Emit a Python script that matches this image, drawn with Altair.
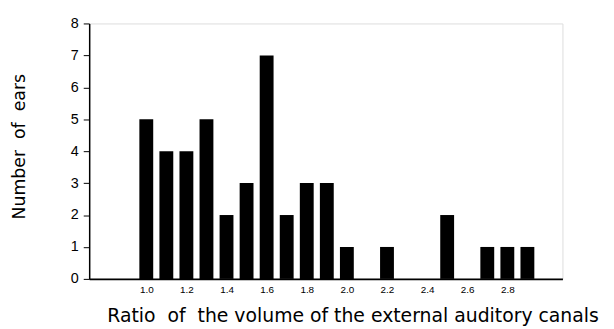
import altair as alt
import pandas as pd

ratios = [1.0, 1.1, 1.2, 1.3, 1.4, 1.5, 1.6, 1.7, 1.8, 1.9, 2.0, 2.2, 2.5, 2.7, 2.8, 2.9]
ears = [5, 4, 4, 5, 2, 3, 7, 2, 3, 3, 1, 1, 2, 1, 1, 1]
x_ticks = [1.0, 1.2, 1.4, 1.6, 1.8, 2.0, 2.2, 2.4, 2.6, 2.8]

df = pd.DataFrame({"ratio": ratios, "ears": ears})

font = "Liberation Sans"
tfont = "DejaVu Sans"
nb = "\u00a0"

chart = alt.Chart(df).mark_bar(color="black", size=14).encode(
    x=alt.X("ratio:Q",
            scale=alt.Scale(domain=[0.74, 3.05], nice=False, zero=False),
            axis=alt.Axis(values=x_ticks, format=".1f", ticks=False, grid=False,
                          domainColor="black", domainWidth=2, labelFontSize=10,
                          labelColor="black", labelPadding=6, labelFont=font,
                          title=f"Ratio {nb}of {nb}the volume of the external auditory canals",
                          titleFontSize=19, titleFontWeight="normal", titleFont=tfont,
                          titleColor="black", titlePadding=12, titleX=266,
                          titleAnchor="middle")),
    y=alt.Y("ears:Q",
            scale=alt.Scale(domain=[0, 8], nice=False),
            axis=alt.Axis(values=list(range(9)), grid=False, tickSize=6, tickColor="black",
                          domainColor="black", domainWidth=1.5, labelFontSize=14.5,
                          labelColor="black", labelPadding=5, labelFont=font,
                          title=f"Number {nb}of {nb}ears", titleFontSize=17.5,
                          titleFontWeight="normal", titleFont=tfont,
                          titleColor="black", titlePadding=42, titleY=124,
                          titleAnchor="middle")),
).properties(
    width=478, height=258,
    autosize=alt.AutoSizeParams(type="none"),
    padding={"left": 82, "top": 14, "right": 44, "bottom": 48},
).configure_view(stroke=None).configure(background="white")

chart.save("out.html", embed_options={"renderer": "svg", "actions": False})
